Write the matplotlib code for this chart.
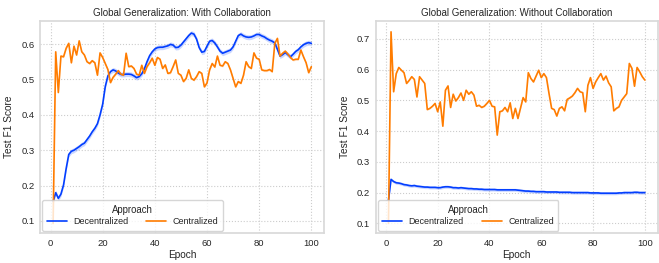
import numpy as np
import matplotlib
matplotlib.use("Agg")
import matplotlib.pyplot as plt
import seaborn as sns

sns.set_theme(style="whitegrid", rc={"grid.linestyle": ":", "axes.edgecolor": ".85"})
plt.rcParams['font.family'] = ['Liberation Sans', 'DejaVu Sans']

#### Data (epochs 1..100)
epochs = list(range(1, 101))

with_decentral = [
    0.155, 0.18, 0.164, 0.176, 0.202, 0.248, 0.288, 0.297, 0.300, 0.305,
    0.31, 0.316, 0.32, 0.33, 0.34, 0.352, 0.362, 0.375, 0.40, 0.43,
    0.48, 0.51, 0.522, 0.527, 0.524, 0.518, 0.514, 0.514, 0.515, 0.515,
    0.514, 0.51, 0.505, 0.508, 0.516, 0.53, 0.55, 0.567, 0.578, 0.586,
    0.59, 0.591, 0.591, 0.593, 0.595, 0.599, 0.597, 0.59, 0.591, 0.597,
    0.606, 0.615, 0.624, 0.631, 0.628, 0.614, 0.59, 0.577, 0.579, 0.594,
    0.608, 0.61, 0.603, 0.592, 0.58, 0.574, 0.577, 0.58, 0.583, 0.592,
    0.608, 0.624, 0.628, 0.623, 0.62, 0.619, 0.62, 0.623, 0.627, 0.627,
    0.623, 0.62, 0.615, 0.611, 0.608, 0.603, 0.585, 0.566, 0.57, 0.576,
    0.57, 0.564, 0.571, 0.579, 0.584, 0.592, 0.598, 0.602, 0.604, 0.602]

with_central = [
    0.093, 0.578, 0.463, 0.566, 0.564, 0.588, 0.602, 0.547, 0.594, 0.569,
    0.609, 0.578, 0.569, 0.55, 0.545, 0.553, 0.547, 0.512, 0.575, 0.562,
    0.545, 0.528, 0.491, 0.506, 0.515, 0.525, 0.515, 0.512, 0.574, 0.536,
    0.538, 0.531, 0.515, 0.512, 0.540, 0.517, 0.536, 0.547, 0.56, 0.54,
    0.562, 0.557, 0.531, 0.541, 0.517, 0.519, 0.536, 0.555, 0.517, 0.512,
    0.494, 0.503, 0.527, 0.503, 0.498, 0.508, 0.522, 0.517, 0.479, 0.49,
    0.527, 0.545, 0.535, 0.566, 0.54, 0.538, 0.55, 0.545, 0.527, 0.503,
    0.479, 0.494, 0.489, 0.512, 0.55, 0.536, 0.531, 0.575, 0.56, 0.557,
    0.527, 0.525, 0.525, 0.528, 0.522, 0.602, 0.616, 0.566, 0.574, 0.58,
    0.572, 0.562, 0.555, 0.557, 0.557, 0.583, 0.564, 0.547, 0.519, 0.536]

without_decentral = [
    0.175, 0.243, 0.236, 0.232, 0.231, 0.229, 0.226, 0.225, 0.223, 0.222,
    0.223, 0.221, 0.22, 0.219, 0.218, 0.218, 0.217, 0.217, 0.217, 0.216,
    0.216, 0.218, 0.219, 0.219, 0.218, 0.216, 0.216, 0.215, 0.216, 0.215,
    0.214, 0.213, 0.213, 0.212, 0.212, 0.211, 0.211, 0.21, 0.21, 0.21,
    0.21, 0.21, 0.209, 0.209, 0.209, 0.209, 0.209, 0.209, 0.209, 0.209,
    0.208, 0.207, 0.206, 0.205, 0.205, 0.204, 0.204, 0.203, 0.203, 0.203,
    0.203, 0.202, 0.202, 0.202, 0.202, 0.202, 0.201, 0.201, 0.201, 0.201,
    0.201, 0.2, 0.2, 0.2, 0.2, 0.2, 0.2, 0.2, 0.199, 0.199,
    0.199, 0.199, 0.198, 0.198, 0.198, 0.198, 0.198, 0.198, 0.198, 0.199,
    0.199, 0.2, 0.2, 0.2, 0.2, 0.201, 0.201, 0.2, 0.2, 0.2]

without_central = [
    0.10, 0.723, 0.528, 0.587, 0.607, 0.598, 0.59, 0.555, 0.565, 0.577,
    0.568, 0.511, 0.577, 0.566, 0.555, 0.47, 0.474, 0.481, 0.49, 0.463,
    0.495, 0.416, 0.533, 0.547, 0.477, 0.52, 0.498, 0.509, 0.524, 0.5,
    0.533, 0.52, 0.528, 0.517, 0.481, 0.484, 0.477, 0.481, 0.49, 0.5,
    0.481, 0.479, 0.387, 0.463, 0.466, 0.477, 0.463, 0.492, 0.441, 0.474,
    0.441, 0.475, 0.509, 0.495, 0.59, 0.571, 0.56, 0.579, 0.598, 0.574,
    0.587, 0.574, 0.522, 0.474, 0.47, 0.449, 0.474, 0.479, 0.466, 0.503,
    0.508, 0.514, 0.525, 0.539, 0.528, 0.525, 0.463, 0.549, 0.574, 0.539,
    0.56, 0.574, 0.587, 0.566, 0.579, 0.557, 0.544, 0.466, 0.474, 0.479,
    0.5, 0.511, 0.522, 0.62, 0.604, 0.546, 0.607, 0.593, 0.577, 0.566]

# approximate half-width of the shaded confidence bands
band_decentral = [0.007, 0.005]
band_central = [0.003, 0.002]

titles = ["Global Generalization: With Collaboration",
          "Global Generalization: Without Collaboration"]
labels = ["Decentralized", "Centralized"]

pal = sns.color_palette("bright")
c_blue, c_orange = pal[0], pal[1]

fig = plt.figure(figsize=(6.59, 2.63), dpi=100)
ax1 = fig.add_axes([0.061, 0.114, 0.431, 0.806])
ax2 = fig.add_axes([0.570, 0.114, 0.428, 0.806])

panels = [(ax1, with_decentral, with_central, (0.066, 0.665)),
          (ax2, without_decentral, without_central, (0.0686, 0.758))]

for i, (ax, dec, cen, ylim) in enumerate(panels):
    x = np.array(epochs)
    d = np.array(dec)
    c = np.array(cen)
    ax.fill_between(x, d - band_decentral[i], d + band_decentral[i], color=c_blue, alpha=0.2, lw=0)
    ax.fill_between(x, c - band_central[i], c + band_central[i], color=c_orange, alpha=0.2, lw=0)
    ax.plot(x, d, color=c_blue, lw=1.2, label=labels[0])
    ax.plot(x, c, color=c_orange, lw=1.2, label=labels[1])
    ax.set_xlim(-3.95, 104.95)
    ax.set_ylim(*ylim)
    ax.set_title(titles[i], fontsize=7, pad=3.5)
    ax.set_xlabel("Epoch", fontsize=7.3, labelpad=1.5)
    ax.set_ylabel("Test F1 Score", fontsize=7.3, labelpad=5)
    ax.tick_params(labelsize=6.8, length=0)
    ax.tick_params(axis="x", pad=4.5)
    ax.tick_params(axis="y", pad=4)
    ax.grid(True, linestyle=":", color=".8", lw=0.8)
    for s in ax.spines.values():
        s.set_color(".85")
    leg = ax.legend(title="Approach", ncol=2, loc="lower left", fontsize=6.5,
                    title_fontsize=6.9, frameon=True, borderpad=0.5,
                    handlelength=2.2, columnspacing=2.0, borderaxespad=0.25,
                    labelspacing=0.25, handletextpad=0.7)

plt.savefig("out.png", dpi=100)
